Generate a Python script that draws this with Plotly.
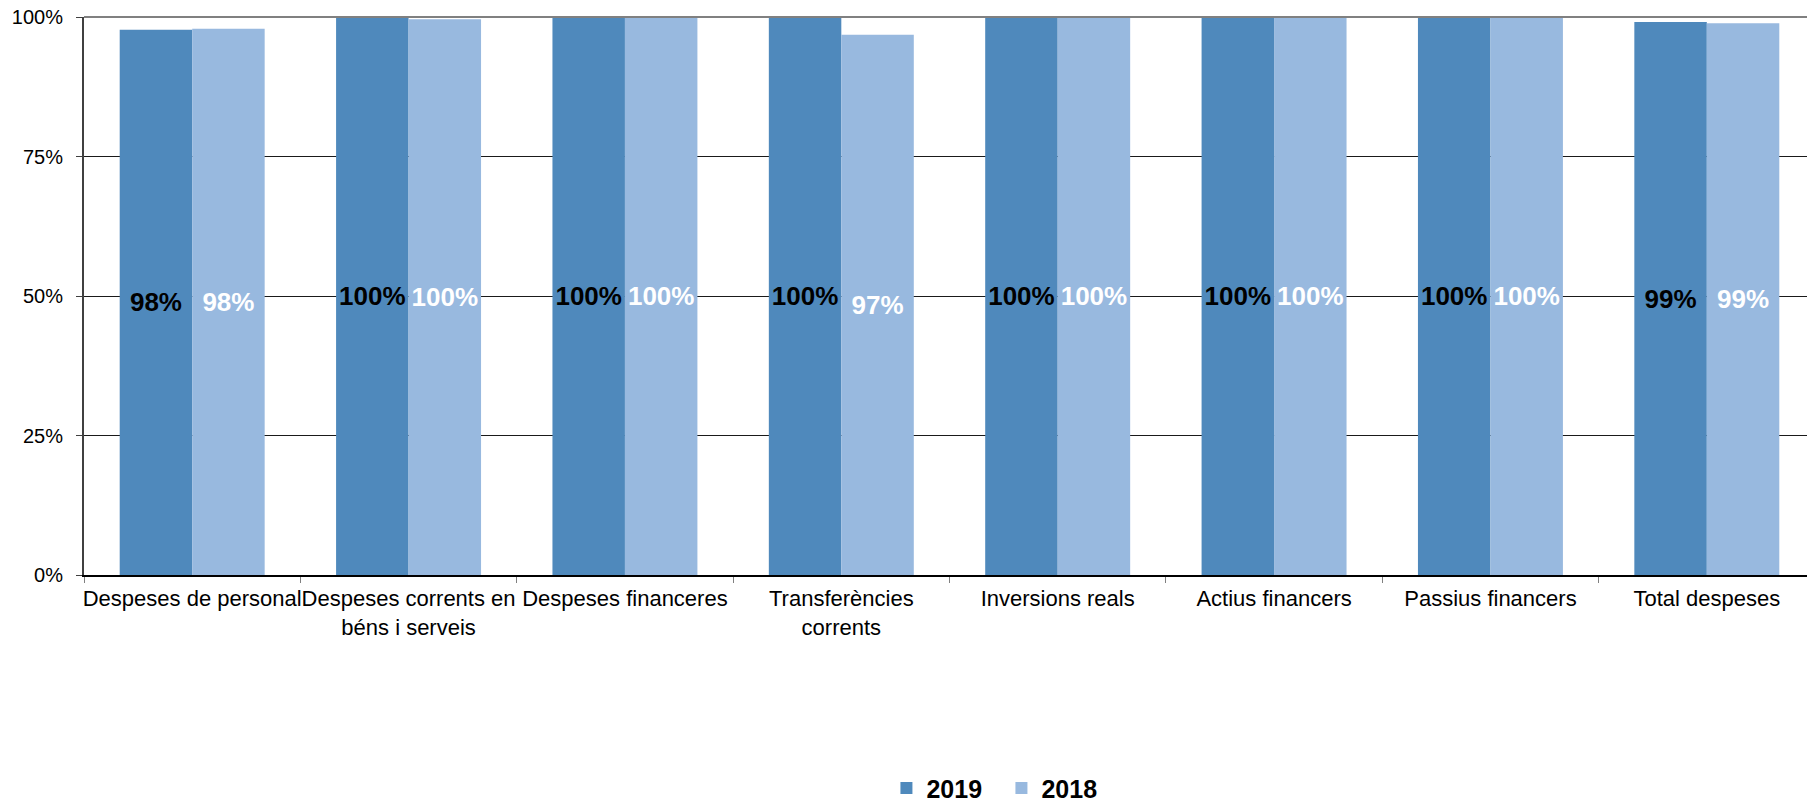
import plotly.graph_objects as go

categories = ["Despeses de personal", "Despeses corrents en<br>béns i serveis", "Despeses financeres",
              "Transferències<br>corrents", "Inversions reals", "Actius financers",
              "Passius financers", "Total despeses"]
values_2019 = [97.7, 100, 100, 100, 100, 100, 100, 99.1]
values_2018 = [97.9, 99.6, 100, 96.8, 100, 100, 100, 98.9]
y_ticks = [0, 25, 50, 75, 100]
y_tick_labels = ["0%", "25%", "50%", "75%", "100%"]

FONT = "Liberation Sans, Arial, sans-serif"

fig = go.Figure()
fig.add_trace(go.Bar(
    x=categories, y=values_2019, name="2019",
    marker=dict(color="#4F89BC", line=dict(width=0)),
    texttemplate="%{y:.0f}%", textposition="inside", insidetextanchor="middle",
    textangle=0, constraintext="none",
    textfont=dict(family=FONT, size=26, color="#000000", weight="bold"),
))
fig.add_trace(go.Bar(
    x=categories, y=values_2018, name="2018",
    marker=dict(color="#98B9DF", line=dict(width=0)),
    texttemplate="%{y:.0f}%", textposition="inside", insidetextanchor="middle",
    textangle=0, constraintext="none",
    textfont=dict(family=FONT, size=26, color="#FFFFFF", weight="bold"),
))

fig.update_layout(
    width=1815, height=801,
    margin=dict(l=76, r=8, t=9, b=234, autoexpand=False),
    paper_bgcolor="white", plot_bgcolor="white",
    barmode="group", bargap=0.33, bargroupgap=0,
    font=dict(family=FONT, color="#000000"),
    showlegend=True,
    legend=dict(orientation="h", x=0.53, xanchor="center", y=-0.382, yanchor="middle",
                font=dict(family=FONT, size=25, color="#000000", weight="bold"),
                entrywidth=70, entrywidthmode="pixels",
                itemsizing="constant", tracegroupgap=0),
    shapes=[dict(type="line", xref="paper", yref="paper", x0=0, x1=1, y0=1, y1=1,
                 line=dict(color="#808080", width=2), layer="above")],
)
fig.update_xaxes(
    automargin=False, tickangle=0,
    showline=True, linecolor="#000000", linewidth=2,
    ticks="outside", tickson="boundaries", ticklen=6, tickcolor="#808080", tickwidth=1,
    ticklabelstandoff=3,
    tickfont=dict(family=FONT, size=22, color="#000000"),
    showgrid=False,
)
fig.update_yaxes(
    automargin=False,
    range=[0, 100], tickmode="array", tickvals=y_ticks, ticktext=y_tick_labels,
    showline=True, linecolor="#404040", linewidth=2,
    ticks="outside", ticklen=6, tickcolor="#404040", ticklabelstandoff=9,
    ticklabeloverflow="allow",
    tickfont=dict(family=FONT, size=20, color="#000000"),
    showgrid=True, gridcolor="#1a1a1a", gridwidth=1, zeroline=False,
)

fig.write_html("out.html")
